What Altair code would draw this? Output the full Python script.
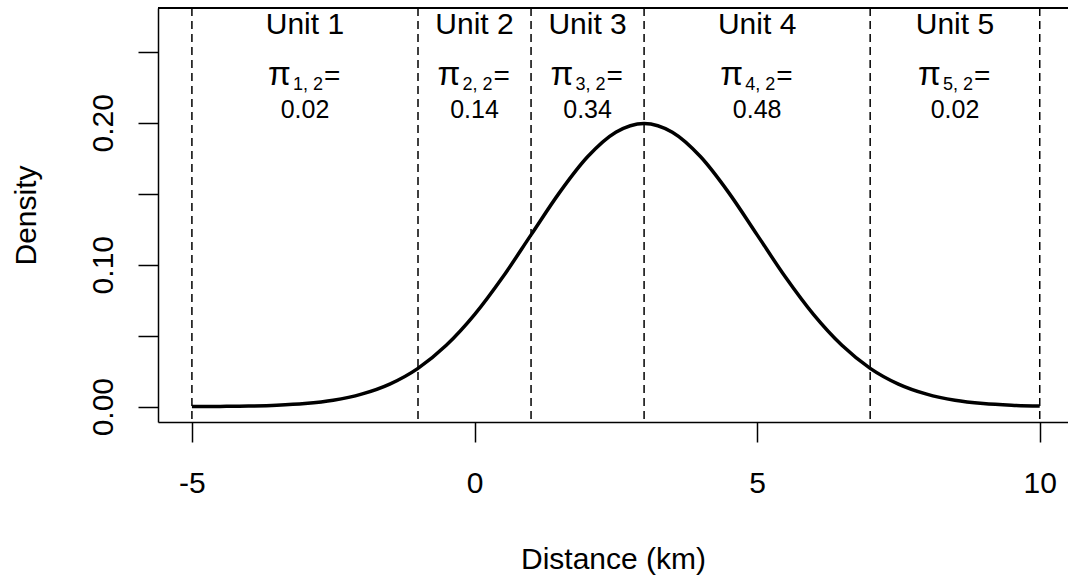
import altair as alt
import pandas as pd

# Curve: distance (km) and density
dist = [-5, -4.5, -4, -3.5, -3, -2.5, -2, -1.5, -1, -0.5, 0, 0.5, 1, 1.5, 2, 2.5, 3,
        3.5, 4, 4.5, 5, 5.5, 6, 6.5, 7, 7.5, 8, 8.5, 9, 9.5, 10]
density = [0.0001, 0.0002, 0.0004, 0.0010, 0.0022, 0.0045, 0.0088, 0.0159, 0.0270,
           0.0432, 0.0648, 0.0913, 0.1210, 0.1506, 0.1760, 0.1933, 0.1995,
           0.1933, 0.1760, 0.1506, 0.1210, 0.0913, 0.0648, 0.0432, 0.0270,
           0.0159, 0.0088, 0.0045, 0.0022, 0.0010, 0.0004]

# Unit boundaries and labels
bounds = [-5, -1, 1, 3, 7, 10]
unit_labels = ["Unit 1", "Unit 2", "Unit 3", "Unit 4", "Unit 5"]
unit_centers = [-3, 0, 2, 5, 8.5]
pi_subs = ["1, 2", "2, 2", "3, 2", "4, 2", "5, 2"]
pi_vals = ["0.02", "0.14", "0.34", "0.48", "0.02"]

x_ticks = [-5, 0, 5, 10]
y_ticks = [0, 0.05, 0.1, 0.15, 0.2, 0.25]

W, H = 910, 414
FONT = "Liberation Sans"

curve_df = pd.DataFrame({"x": dist, "y": density})
bounds_df = pd.DataFrame({"x": bounds})
units_df = pd.DataFrame({"x": unit_centers, "label": unit_labels,
                         "sub": pi_subs, "val": pi_vals})

xscale = alt.Scale(domain=[-5.6, 10.5], nice=False, zero=False)
yscale = alt.Scale(domain=[-0.0108, 0.2808], nice=False, zero=False)

xaxis = alt.Axis(values=x_ticks, title="Distance (km)", grid=False,
                 labelExpr="toString(datum.value)",
                 tickSize=20, tickWidth=1.5, tickColor="black",
                 domainColor="black", domainWidth=1.5,
                 labelFont=FONT, labelFontSize=30, labelColor="black",
                 labelBaseline="alphabetic", labelPadding=50,
                 labelFlush=False, labelOverlap=False,
                 titleFont=FONT, titleFontSize=30, titleFontWeight="normal",
                 titleColor="black", titleBaseline="alphabetic", titleY=146)
yaxis = alt.Axis(values=y_ticks, title="Density", grid=False,
                 tickSize=20, tickWidth=1.5, tickColor="black",
                 domainColor="black", domainWidth=1.5,
                 labelExpr="indexof(['0','0.1','0.2'], toString(datum.value)) >= 0 ? format(datum.value, '.2f') : ''",
                 labelFont=FONT, labelFontSize=30, labelColor="black",
                 labelAngle=270, labelAlign="center", labelBaseline="alphabetic",
                 labelPadding=26, labelFlush=False, labelOverlap=False,
                 titleFont=FONT, titleFontSize=30, titleFontWeight="normal",
                 titleColor="black", titleAngle=270, titleBaseline="alphabetic",
                 titleX=-123)

curve = alt.Chart(curve_df).mark_line(color="black", strokeWidth=3.5, interpolate="monotone").encode(
    x=alt.X("x:Q", scale=xscale, axis=xaxis),
    y=alt.Y("y:Q", scale=yscale, axis=yaxis),
)

vlines = alt.Chart(bounds_df).mark_rule(color="black", strokeWidth=1.5, strokeDash=[8, 5]).encode(
    x=alt.X("x:Q", scale=xscale),
)

top_border = alt.Chart(bounds_df).mark_rule(color="black", strokeWidth=1.5).encode(
    x=alt.value(0), x2=alt.value(W), y=alt.value(0)
)

base = alt.Chart(units_df).encode(x=alt.X("x:Q", scale=xscale))

unit_text = base.mark_text(font=FONT, fontSize=30, color="black", align="center",
                           baseline="alphabetic").encode(y=alt.value(26), text="label:N")
pi_text = base.mark_text(font=FONT, fontSize=33, color="black", align="left",
                         baseline="alphabetic", dx=-37).encode(y=alt.value(77), text=alt.value("π"))
sub_text = base.mark_text(font=FONT, fontSize=18, color="black", align="left",
                          baseline="alphabetic", dx=-12).encode(y=alt.value(82), text="sub:N")
eq_text = base.mark_text(font=FONT, fontSize=28, color="black", align="left",
                         baseline="alphabetic", dx=19).encode(y=alt.value(77), text=alt.value("="))
val_text = base.mark_text(font=FONT, fontSize=25, color="black", align="center",
                          baseline="alphabetic").encode(y=alt.value(110), text="val:N")

chart = alt.layer(vlines, curve, top_border, unit_text, pi_text, sub_text, eq_text, val_text).properties(
    width=W, height=H,
    autosize=alt.AutoSizeParams(type="none"),
    padding={"left": 158, "top": 8, "right": 0, "bottom": 156},
    background="white",
).configure_view(stroke=None)

chart.save("out.html", embed_options={"renderer": "svg", "actions": False})
